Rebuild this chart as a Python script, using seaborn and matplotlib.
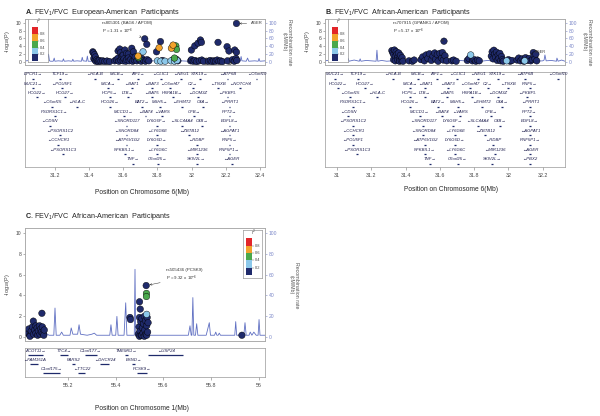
import matplotlib
matplotlib.use('Agg')
import matplotlib.pyplot as plt
import numpy as np
import pandas as pd
import seaborn as sns

sns.set_theme(style='white')
plt.rcParams['font.family'] = ['Liberation Sans', 'DejaVu Sans']
plt.rcParams['mathtext.fontset'] = 'custom'
plt.rcParams['mathtext.rm'] = 'Liberation Sans'
plt.rcParams['mathtext.it'] = 'Liberation Sans:italic'
plt.rcParams['mathtext.bf'] = 'Liberation Sans:bold'

W, H = 600, 416

# LD classes (r^2) and their colours
ld_codes = {'n': '0.0-0.2', 'b': '0.2-0.4', 'g': '0.4-0.6', 'o': '0.6-0.8', 'r': '0.8-1.0', 'x': 'NA'}
ld_palette = {'0.0-0.2': '#1f2a6b', '0.2-0.4': '#8cc8ea', '0.4-0.6': '#4aa84c',
              '0.6-0.8': '#f2a22c', '0.8-1.0': '#e2262a', 'NA': '#a0a0a0'}
ld_ticks = ['0.2', '0.4', '0.6', '0.8']
recomb_color = '#5f6fc2'

# ---------------- panel A: European-American, chr6 ----------------
a_snp_pos = [
    31.422, 31.425, 31.428, 31.432, 31.435, 31.438, 31.440, 31.445,
    31.450, 31.455, 31.460, 31.470, 31.480, 31.492, 31.505, 31.520,
    31.550, 31.560, 31.570, 31.570, 31.575, 31.580, 31.585, 31.585,
    31.590, 31.595, 31.600, 31.600, 31.605, 31.610, 31.615, 31.620,
    31.620, 31.630, 31.630, 31.635, 31.645, 31.650, 31.655, 31.658,
    31.660, 31.665, 31.670, 31.680, 31.687, 31.690, 31.695, 31.705,
    31.710, 31.716, 31.720, 31.726, 31.730, 31.738, 31.740, 31.750,
    31.795, 31.800, 31.810, 31.818, 31.820, 31.830, 31.845,
    31.880, 31.882, 31.890, 31.892, 31.900, 31.900, 31.908, 31.910,
    31.912, 31.915, 31.920,
    31.995, 31.999, 32.000, 32.010, 32.019, 32.020, 32.030, 32.038,
    32.045, 32.052, 32.058, 32.060, 32.070, 32.087,
    32.100, 32.110, 32.120, 32.130, 32.140, 32.150, 32.155, 32.160,
    32.170, 32.180,
    32.208, 32.210, 32.219, 32.223, 32.240, 32.250, 32.253, 32.260,
    32.263, 32.265, 32.263,
]
a_snp_logp = [
    2.6, 2.3, 0.9, 1.85, 0.5, 1.3, 0.2, 0.6,
    0.3, 0.1, 0.4, 0.2, 0.3, 0.15, 0.25, 0.1,
    0.3, 0.6, 2.8, 1.0, 0.2, 3.3, 2.4, 0.5,
    1.2, 1.6, 1.8, 0.3, 0.8, 3.05, 0.2, 2.2,
    0.6, 2.0, 1.0, 0.3, 0.7, 3.5, 0.2, 1.8,
    2.6, 0.5, 1.3, 0.3, 1.5, 1.1, 0.6, 0.2,
    0.9, 2.6, 0.4, 5.9, 0.2, 4.5, 0.6, 0.3,
    2.6, 0.3, 3.6, 5.2, 0.2, 0.4, 0.2,
    0.3, 3.5, 0.5, 4.3, 0.2, 1.0, 4.1, 0.7,
    3.2, 0.4, 0.3,
    0.3, 3.05, 0.6, 0.2, 4.1, 0.4, 0.1, 4.8,
    0.3, 5.6, 5.0, 0.5, 0.2, 0.2,
    0.2, 0.4, 0.1, 0.3, 0.2, 0.5, 5.0, 0.2,
    0.3, 0.1,
    3.9, 0.3, 2.8, 0.2, 0.6, 0.2, 3.05, 0.9,
    2.5, 0.4, 9.8,
]
a_snp_ld = ''.join([
    'nnnnnnnnnnnnnnnn',
    'nnnnnnnnnnnnnnnnnnnnnnnnnnnn', 'og', 'nnn', 'b', 'nnnnnn',
    'nbonbnb',
    'bonobggngbn',
    'nnnnnnnnnnnnnx',
    'nnnnnnnnnn',
    'nnnxnnnnnnn',
])
a_rec_pos = [31.03, 31.06, 31.1, 31.13, 31.155, 31.163, 31.168, 31.175, 31.19, 31.196,
             31.2, 31.22, 31.245, 31.25, 31.255, 31.28, 31.3, 31.305, 31.31, 31.33,
             31.355, 31.36, 31.365, 31.385, 31.39, 31.395, 31.42, 31.46, 31.5, 31.54,
             31.58, 31.62, 31.66, 31.7, 31.74, 31.78, 31.82, 31.86, 31.9, 31.94,
             31.98, 32.02, 32.06, 32.1, 32.14, 32.18, 32.22, 32.26, 32.285, 32.29,
             32.295, 32.32, 32.328, 32.335, 32.37, 32.39, 32.395, 32.4, 32.43]
a_rec_rate = [3, 4, 2, 3, 2, 20, 3, 2, 2, 10,
              2, 3, 2, 8, 2, 3, 2, 7, 2, 3,
              2, 12, 3, 2, 15, 2, 2, 3, 2, 3,
              2, 4, 2, 3, 2, 3, 2, 4, 2, 3,
              2, 3, 2, 4, 2, 3, 2, 3, 2, 14,
              3, 2, 10, 2, 3, 2, 9, 2, 3]
a_gene_names = [
    'DPCR1→', 'TCF19→', '←HLA-B', 'MICB→', 'AIF1→', '←CLIC1', '←NEU1', 'STK19→', '←ATF6B', '←C6orf10',
    'MUC21→', '←POU5F1', 'MICA→', '←BAT1', '←BAT3', '←C6orf47', 'C2→', '←TNXB', '←NOTCH4',
    'HCG22→', 'HCG27→', 'HCP5→', 'LTB→', '←BAT5', 'HSPA1B→', '←DOM3Z', '←FKBPL',
    '←C6orf15', '←HLA-C', 'HCG26→', 'BAT2→', 'MSH5→', '←EHMT2', 'C4A→', '←PRRT1',
    'PSORS1C1→', 'MCCD1→', '←BAT4', '←VARS', 'CFB→', 'PPT2→',
    '←CDSN', '←SNORD117', 'LY6G6F→', '←SLC44A4', 'C4B→', 'EGFL8→',
    '←PSORS1C2', '←SNORD84', '←LY6G6E', '←ZBTB12', '←AGPAT1',
    '←CCHCR1', '←ATP6V1G2', 'LY6G6D→', '←RDBP', 'RNF5→',
    '←PSORS1C3', 'NFKBIL1→', '←LY6G6C', '←MIR1236', 'RNF5P1→',
    'TNF→', 'C6orf25→', 'SKIV2L→', '←AGER',
]
a_gene_pos = [
    31.071, 31.229, 31.434, 31.568, 31.685, 31.820, 31.937, 32.048, 32.210, 32.380,
    31.071, 31.241, 31.510, 31.650, 31.767, 31.873, 32.007, 32.153, 32.282,
    31.095, 31.258, 31.522, 31.627, 31.767, 31.890, 32.036, 32.210,
    31.182, 31.329, 31.522, 31.709, 31.814, 31.943, 32.066, 32.223,
    31.200, 31.605, 31.730, 31.825, 32.013, 32.223,
    31.170, 31.620, 31.797, 31.943, 32.060, 32.223,
    31.229, 31.620, 31.797, 31.984, 32.223,
    31.218, 31.620, 31.797, 32.030, 32.223,
    31.247, 31.609, 31.797, 32.030, 32.223,
    31.656, 31.802, 32.030, 32.235,
]
a_gene_row = [0] * 10 + [1] * 9 + [2] * 8 + [3] * 8 + [4] * 6 + [5] * 6 + [6] * 5 + [7] * 5 + [8] * 5 + [9] * 4

# ---------------- panel B: African-American, chr6 ----------------
b_snp_pos = [
    31.320, 31.325, 31.330, 31.330, 31.335, 31.340, 31.340, 31.345,
    31.350, 31.355, 31.355, 31.360, 31.365, 31.365, 31.370, 31.375,
    31.380, 31.385,
    31.420, 31.440, 31.450,
    31.490, 31.500, 31.510, 31.520, 31.530, 31.540, 31.550, 31.560,
    31.570, 31.575, 31.585, 31.590, 31.600, 31.610, 31.615, 31.620,
    31.624, 31.630, 31.640,
    31.670, 31.680, 31.695,
    31.760, 31.770, 31.780, 31.790, 31.800, 31.810, 31.820, 31.830,
    31.900, 31.905, 31.910, 31.915, 31.920, 31.925, 31.930, 31.935,
    31.940, 31.945, 31.950, 31.955, 31.960, 31.965, 31.970,
    31.990, 32.000, 32.010, 32.020,
    32.050, 32.060, 32.070, 32.080, 32.090, 32.095, 32.100, 32.110,
    32.120, 32.130, 32.140,
    32.145, 32.150, 32.155, 32.160, 32.165,
]
b_snp_logp = [
    2.9, 2.4, 1.9, 0.6, 3.05, 1.5, 0.3, 2.6,
    2.0, 1.2, 0.5, 2.3, 0.8, 0.2, 1.7, 0.4,
    1.1, 0.2,
    0.3, 0.2, 0.5,
    0.6, 1.3, 0.3, 1.8, 0.9, 2.1, 0.4, 1.5,
    2.3, 0.7, 1.9, 0.2, 2.2, 1.0, 2.4, 0.5,
    5.3, 1.6, 0.3,
    0.3, 0.5, 0.2,
    0.4, 0.9, 1.8, 0.3, 0.6, 0.2, 0.5, 0.3,
    1.5, 2.6, 0.8, 3.0, 2.0, 1.2, 2.5, 0.4,
    1.8, 0.9, 2.2, 0.3, 1.4, 0.6, 0.2,
    0.3, 0.6, 0.2, 0.4,
    0.5, 1.0, 0.3, 0.8, 0.2, 0.3, 1.1, 0.4,
    0.9, 0.3, 0.6,
    2.4, 1.6, 0.8, 2.0, 0.3,
]
b_snp_ld = ''.join([
    'nnnnnnnnnnnnnnnnnn',
    'nnn',
    'nnnnnnnnnnnnnnnnnnn',
    'nnn',
    'nnbnnnnn',
    'nnnnnnnnnnnnnnn',
    'bnnn',
    'nnnnnbnnnnn',
    'nnnnn',
])
b_rec_pos = [30.93, 30.96, 31.0, 31.04, 31.06, 31.065, 31.07, 31.1, 31.13, 31.135,
             31.14, 31.17, 31.2, 31.228, 31.233, 31.238, 31.26, 31.29, 31.32, 31.36,
             31.4, 31.44, 31.48, 31.52, 31.56, 31.6, 31.64, 31.68, 31.72, 31.76,
             31.8, 31.84, 31.88, 31.92, 31.96, 32.0, 32.04, 32.08, 32.12, 32.16,
             32.2, 32.208, 32.213, 32.22, 32.25, 32.28, 32.283, 32.29, 32.31, 32.33]
b_rec_rate = [3, 5, 2, 4, 2, 9, 2, 5, 2, 8,
              2, 4, 3, 2, 30, 2, 4, 2, 3, 2,
              4, 2, 3, 2, 4, 2, 3, 2, 4, 2,
              3, 2, 4, 2, 3, 2, 3, 2, 4, 2,
              3, 5, 18, 3, 4, 2, 10, 2, 5, 2]
b_gene_names = [
    'MUC21→', 'TCF19→', '←HLA-B', 'MICB→', 'AIF1→', '←CLIC1', '←NEU1', 'STK19→', '←ATF6B', '←C6orf10',
    'HCG22→', 'HCG27→', 'MICA→', '←BAT1', '←BAT3', '←C6orf47', 'C2→', '←TNXB', 'RNF5→',
    '←C6orf15', '←HLA-C', 'HCP5→', 'LTB→', '←BAT5', 'HSPA1B→', '←DOM3Z', '←FKBPL',
    'PSORS1C1→', 'HCG26→', 'BAT2→', 'MSH5→', '←EHMT2', 'C4A→', '←PRRT1',
    '←CDSN', 'MCCD1→', '←BAT4', '←VARS', 'CFB→', 'PPT2→',
    '←PSORS1C2', '←SNORD117', 'LY6G6F→', '←SLC44A4', 'C4B→', 'EGFL8→',
    '←CCHCR1', '←SNORD84', '←LY6G6E', '←ZBTB12', '←AGPAT1',
    '←POU5F1', '←ATP6V1G2', 'LY6G6D→', '←RDBP', 'RNF5P1→',
    '←PSORS1C3', 'NFKBIL1→', '←LY6G6C', '←MIR1236', '←AGER',
    'TNF→', 'C6orf25→', 'SKIV2L→', '←PBX2',
]
b_gene_pos = [
    30.988, 31.122, 31.327, 31.472, 31.583, 31.700, 31.822, 31.939, 32.096, 32.288,
    31.006, 31.163, 31.426, 31.513, 31.647, 31.775, 31.880, 31.997, 32.125,
    31.076, 31.233, 31.426, 31.513, 31.641, 31.787, 31.939, 32.108,
    31.093, 31.426, 31.589, 31.705, 31.845, 31.962, 32.125,
    31.064, 31.484, 31.612, 31.717, 31.898, 32.125,
    31.093, 31.501, 31.676, 31.822, 31.950, 32.125,
    31.093, 31.501, 31.688, 31.863, 32.125,
    31.093, 31.513, 31.688, 31.910, 32.125,
    31.117, 31.513, 31.688, 31.921, 32.125,
    31.542, 31.705, 31.904, 32.125,
]
b_gene_row = [0] * 10 + [1] * 9 + [2] * 8 + [3] * 7 + [4] * 6 + [5] * 6 + [6] * 5 + [7] * 5 + [8] * 5 + [9] * 4

# ---------------- panel C: African-American, chr1 ----------------
c_snp_pos = [
    55.030, 55.035, 55.040, 55.040, 55.045, 55.050, 55.054, 55.055,
    55.060, 55.065, 55.065, 55.070, 55.072, 55.075, 55.080, 55.082,
    55.085, 55.088, 55.090, 55.092, 55.095, 55.098, 55.100,
    55.460, 55.462,
    55.495, 55.498, 55.500, 55.500, 55.500, 55.502, 55.503, 55.505,
    55.507, 55.510, 55.510, 55.512, 55.515, 55.517, 55.520, 55.520,
    55.522, 55.525, 55.527, 55.528, 55.529, 55.529, 55.530, 55.530,
    55.530, 55.532, 55.534, 55.536,
    55.930,
]
c_snp_logp = [
    0.4, 0.8, 0.2, 0.1, 0.6, 1.0, 1.55, 0.3,
    0.7, 0.4, 1.1, 0.9, 0.2, 0.6, 1.1, 0.3,
    0.8, 0.5, 2.3, 1.0, 0.4, 0.2, 0.7,
    1.9, 1.7,
    0.3, 1.0, 3.4, 1.9, 0.1, 0.6, 2.7, 1.5,
    0.2, 1.8, 0.2, 0.9, 0.4, 1.3, 2.0, 0.1,
    0.7, 1.6, 0.3, 4.95, 4.2, 3.9, 2.2, 1.1,
    0.2, 1.9, 0.5, 1.4,
    0.2,
]
c_snp_ld = ''.join([
    'nnnnnnnnnnnnnnnnnnnnnnn',
    'nn',
    'nnnnnnnnnnnnnnnnnnnn', 'gg', 'b', 'nnnnn',
    'n',
])
c_rec_pos = [55.02, 55.04, 55.06, 55.08, 55.1, 55.12, 55.14, 55.145, 55.15, 55.165,
             55.173, 55.18, 55.2, 55.208, 55.213, 55.22, 55.24, 55.246, 55.252, 55.28,
             55.3, 55.31, 55.32, 55.35, 55.375, 55.38, 55.385, 55.4, 55.405, 55.41,
             55.435, 55.442, 55.447, 55.47, 55.478, 55.481, 55.484, 55.5, 55.53, 55.56,
             55.6, 55.64, 55.68, 55.705, 55.712, 55.717, 55.72, 55.724, 55.728, 55.735,
             55.74, 55.745, 55.78, 55.793, 55.798, 55.815, 55.82, 55.825, 55.83, 55.835,
             55.84, 55.88, 55.9, 55.904, 55.908, 55.938, 55.943, 55.948, 55.96, 55.965,
             55.972, 55.98, 55.99, 55.998, 56.002, 56.006, 56.027]
c_rec_rate = [2, 4, 2, 3, 5, 2, 2, 28, 2, 2,
              5, 2, 2, 2, 9, 3, 3, 12, 3, 2,
              3, 4, 2, 2, 2, 12, 2, 2, 20, 2,
              2, 33, 2, 2, 2, 65, 2, 2, 2, 2,
              2, 2, 2, 2, 11, 2, 2, 38, 2, 2,
              13, 2, 2, 14, 2, 2, 5, 2, 2, 4,
              2, 2, 2, 15, 2, 2, 14, 2, 2, 5,
              2, 5, 2, 2, 17, 2, 2]
c_gene_names = ['ACOT11→', 'TTC4→', 'C1orf177→', 'TMEM61→', '←USP24',
                '←FAM151A', 'PARS2', '←DHCR24', 'BSND→',
                'C1orf175→', '←TTC22', 'PCSK9→']
c_gene_start = [55.032, 55.166, 55.270, 55.440, 55.536,
                55.040, 55.217, 55.335, 55.470,
                55.095, 55.242, 55.490]
c_gene_end = [55.095, 55.200, 55.320, 55.450, 55.683,
              55.075, 55.230, 55.370, 55.480,
              55.166, 55.270, 55.530]
c_gene_row = [0, 0, 0, 0, 0, 1, 1, 1, 1, 2, 2, 2]

fig = plt.figure(figsize=(W / 100, H / 100), dpi=100)


def px_rect(x, y, w, h):
    return [x / W, 1 - (y + h) / H, w / W, h / H]


def ftext(x, y, s, **kw):
    fig.text(x / W, 1 - y / H, s, **kw)


def frame(ax, color='#a8a8a8'):
    for sp in ax.spines.values():
        sp.set_visible(True)
        sp.set_color(color)
        sp.set_linewidth(0.5)


def assoc_panel(rect, xlim, ylim, snp_pos, snp_logp, snp_ld, rec_pos, rec_rate):
    ax = fig.add_axes(px_rect(*rect))
    ax2 = ax.twinx()
    rec = pd.DataFrame({'pos': rec_pos, 'rate': rec_rate})
    sns.lineplot(data=rec, x='pos', y='rate', color=recomb_color, lw=0.6,
                 estimator=None, ax=ax2)
    snps = pd.DataFrame({'pos': snp_pos, 'logp': snp_logp,
                         'ld': [ld_codes[c] for c in snp_ld]})
    order = {k: i for i, k in enumerate(['NA', '0.0-0.2', '0.2-0.4', '0.4-0.6', '0.6-0.8', '0.8-1.0'])}
    snps['rank'] = snps['ld'].map(order)
    snps = snps.sort_values('rank', kind='stable')
    sns.scatterplot(data=snps, x='pos', y='logp', hue='ld', palette=ld_palette,
                    s=22, edgecolor='black', linewidth=0.3, legend=False, ax=ax)
    ax.set_zorder(ax2.get_zorder() + 1)
    ax.patch.set_visible(False)
    ax.set_xlim(*xlim)
    ax.set_ylim(*ylim)
    ax2.set_ylim(ylim[0] * 10, ylim[1] * 10)
    ax.set_xticks([])
    ax.set_yticks([0, 2, 4, 6, 8, 10])
    ax2.set_yticks([0, 20, 40, 60, 80, 100])
    ax.set_xlabel('')
    ax.set_ylabel('')
    ax2.set_ylabel('')
    ax.tick_params(axis='y', labelsize=3.6, length=1.5, width=0.4, pad=1,
                   left=True, labelcolor='#444444', color='#777777')
    ax2.tick_params(axis='y', labelsize=3.6, length=1.5, width=0.4, pad=1,
                    right=True, labelcolor='#7a86c8', color='#7a86c8')
    frame(ax2)
    frame(ax)
    return ax


def ld_legend(rect, lo, hi):
    lax = fig.add_axes(px_rect(*rect))
    lax.set_zorder(20)
    lax.set_facecolor('white')
    lax.set_xlim(0, 1)
    lax.set_ylim(0, 1)
    lax.set_xticks([])
    lax.set_yticks([])
    frame(lax, '#999999')
    cols = ['0.0-0.2', '0.2-0.4', '0.4-0.6', '0.6-0.8', '0.8-1.0']
    step = (hi - lo) / 5
    lax.bar([0.33] * 5, [step] * 5, bottom=[lo + i * step for i in range(5)],
            width=0.3, color=[ld_palette[c] for c in cols], linewidth=0)
    for i, t in enumerate(ld_ticks):
        yv = lo + (i + 1) * step
        lax.plot([0.48, 0.56], [yv, yv], color='#555555', lw=0.3)
        lax.text(0.6, yv, t, fontsize=2.9, va='center', ha='left', color='#444444')
    lax.text(0.55, hi + 0.02, 'r$^2$', fontsize=3.3, ha='center', va='bottom',
             style='italic', color='#444444')


def gene_panel(rect, xlim, ylim, names, centers, rows, ticks, starts=None, ends=None):
    gax = fig.add_axes(px_rect(*rect))
    gax.set_xlim(*xlim)
    gax.set_ylim(*ylim)
    gax.set_yticks([])
    gax.set_xticks(ticks)
    gax.set_xticklabels([f'{t:g}' for t in ticks])
    gax.tick_params(axis='x', labelsize=3.8, length=2, width=0.4, pad=2.5,
                    bottom=True, labelcolor='#444444', color='#777777')
    frame(gax, '#999999')
    for i, (name, c, r) in enumerate(zip(names, centers, rows)):
        gax.text(c, r + 0.12, name, fontsize=3.1, style='italic', ha='center',
                 va='bottom', color='#1b1b4b')
        if starts is not None:
            x0, x1 = starts[i], ends[i]
        else:
            x0, x1 = c - 0.005, c + 0.005
        gax.plot([x0, x1], [r + 0.38, r + 0.38], color='#1f2a6b', lw=0.9,
                 solid_capstyle='butt')
    return gax


# ---------- A ----------
xa = (31.025, 32.43)
ax_a = assoc_panel((25, 19, 240, 46), xa, (-0.76, 10.94), a_snp_pos, a_snp_logp, a_snp_ld,
                   a_rec_pos, a_rec_rate)
ld_legend((28, 19, 20, 43), 0.02, 0.81)
gene_panel((25, 72, 240, 95), xa, (9.74, -0.32), a_gene_names, a_gene_pos, a_gene_row,
           [31.2, 31.4, 31.6, 31.8, 32.0, 32.2, 32.4])
ax_a.annotate('rs805301 (BAG6 / APOM)\nP = 1.31 x 10$^{-6}$', xy=(31.726, 5.9),
              xytext=(31.475, 10.4), fontsize=3.2, ha='left', va='top', color='#333333',
              arrowprops=dict(arrowstyle='->', lw=0.35, color='#333333',
                              relpos=(0.72, 0.0), shrinkB=2.5))
ax_a.annotate('AGER', xy=(32.272, 9.8), xytext=(32.35, 9.8), fontsize=3.0, ha='left',
              va='center', color='#333333',
              arrowprops=dict(arrowstyle='->', lw=0.35, color='#333333', shrinkA=1, shrinkB=1))
ftext(25, 12, r'$\mathbf{A}$. FEV$_1$/FVC  European-American  Participants', fontsize=5.2,
      va='center', ha='left')
ftext(8, 42, '-log$_{10}$(P)', fontsize=4, rotation=90, va='center', ha='center', color='#444444')
ftext(287, 42, 'Recombination rate\n(cM/Mb)', fontsize=3.8, rotation=270, va='center',
      ha='center', color='#555555', linespacing=1.1)
ftext(142, 192, 'Position on Chromosome 6(Mb)', fontsize=4.8, ha='center', va='center')

# ---------- B ----------
xb = (30.93, 32.33)
ax_b = assoc_panel((325, 19, 240, 46), xb, (-0.76, 10.94), b_snp_pos, b_snp_logp, b_snp_ld,
                   b_rec_pos, b_rec_rate)
ld_legend((328, 19, 20, 43), 0.02, 0.81)
gene_panel((325, 72, 240, 95), xb, (9.74, -0.32), b_gene_names, b_gene_pos, b_gene_row,
           [31.0, 31.2, 31.4, 31.6, 31.8, 32.0, 32.2])
ax_b.annotate('rs707915 (GPANK1 / APOM)\nP = 5.17 x 10$^{-6}$', xy=(31.624, 5.3),
              xytext=(31.326, 10.4), fontsize=3.2, ha='left', va='top', color='#333333',
              arrowprops=dict(arrowstyle='->', lw=0.35, color='#333333',
                              relpos=(0.68, 0.0), shrinkB=2.5))
ax_b.text(32.19, 2.1, 'AGER', fontsize=2.8, ha='center', va='bottom', color='#333333')
ftext(325, 12, r'$\mathbf{B}$. FEV$_1$/FVC  African-American  Participants', fontsize=5.2,
      va='center', ha='left')
ftext(308, 42, '-log$_{10}$(P)', fontsize=4, rotation=90, va='center', ha='center', color='#444444')
ftext(587, 42, 'Recombination rate\n(cM/Mb)', fontsize=3.8, rotation=270, va='center',
      ha='center', color='#555555', linespacing=1.1)
ftext(451, 190, 'Position on Chromosome 6(Mb)', fontsize=4.8, ha='center', va='center')

# ---------- C ----------
xc = (55.019, 56.027)
ax_c = assoc_panel((25, 228, 240, 113), xc, (-0.35, 10.45), c_snp_pos, c_snp_logp, c_snp_ld,
                   c_rec_pos, c_rec_rate)
ld_legend((243, 230, 19, 48), 0.06, 0.83)
gene_panel((25, 348, 240, 29), xc, (2.78, -0.44), c_gene_names,
           [(s + e) / 2 for s, e in zip(c_gene_start, c_gene_end)], c_gene_row,
           [55.2, 55.4, 55.6, 55.8, 56.0], c_gene_start, c_gene_end)
ax_c.annotate('rs505436 (PCSK9)\nP = 9.32 x 10$^{-6}$', xy=(55.528, 4.95),
              xytext=(55.612, 6.6), fontsize=3.2, ha='left', va='top', color='#333333',
              arrowprops=dict(arrowstyle='->', lw=0.35, color='#333333',
                              relpos=(0.0, 0.1), shrinkB=2.5))
ftext(25, 217, r'$\mathbf{C}$. FEV$_1$/FVC  African-American  Participants', fontsize=5.2,
      va='center', ha='left')
ftext(8, 285, '-log$_{10}$(P)', fontsize=4, rotation=90, va='center', ha='center', color='#444444')
ftext(294, 285, 'Recombination rate\n(cM/Mb)', fontsize=3.8, rotation=270, va='center',
      ha='center', color='#555555', linespacing=1.1)
ftext(142, 408, 'Position on Chromosome 1(Mb)', fontsize=4.8, ha='center', va='center')

fig.savefig('out.png', dpi=100)
